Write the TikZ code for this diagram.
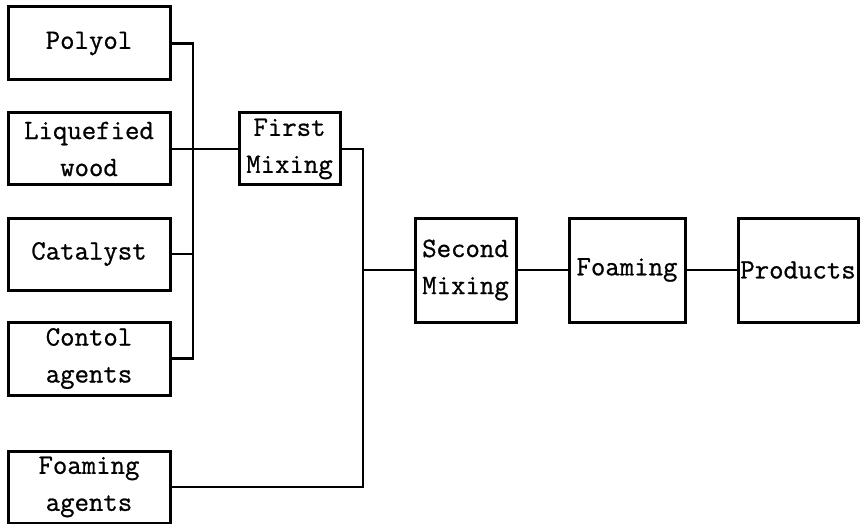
\documentclass[tikz,border=0pt]{standalone}
\usepackage{fontspec}
\newfontfamily\boxfont{Latin Modern Mono}[FakeBold=0.8]
\begin{document}
\begin{tikzpicture}[x=1pt,y=-1pt,
  box/.style={draw,line width=3pt,inner sep=0pt,align=center,
    font=\boxfont\fontsize{28}{37}\selectfont},
  wire/.style={line width=2.8pt}]
\useasboundingbox (0,0) rectangle (860,524);
\node[box,minimum width=162pt,minimum height=73pt] (polyol) at (89,43.5) {Polyol};
\node[box,minimum width=162pt,minimum height=72pt] (liq) at (89,149) {Liquefied\\wood};
\node[box,minimum width=162pt,minimum height=72pt] (cat) at (89,254) {Catalyst};
\node[box,minimum width=162pt,minimum height=73pt] (contol) at (89,358.5) {Contol\\agents};
\node[box,minimum width=162pt,minimum height=72pt] (foamag) at (89,487) {Foaming\\agents};
\node[box,minimum width=101pt,minimum height=72pt] (first) at (289.5,149) {First\\Mixing};
\node[box,minimum width=101pt,minimum height=104pt] (second) at (465.5,270) {Second\\Mixing};
\node[box,minimum width=116pt,minimum height=104pt] (foaming) at (627,270) {Foaming};
\node[box,minimum width=120pt,minimum height=104pt] (products) at (798,270) {Products};
\coordinate (busA) at (193,0);
\coordinate (busB) at (363,0);
\draw[wire] (polyol.east) -| (busA |- contol.east) -- (contol.east);
\draw[wire] (cat.east) -- (cat.east -| busA);
\draw[wire] (liq.east) -- (first.west);
\draw[wire] (first.east) -| (busB |- foamag.east) -- (foamag.east);
\draw[wire] (second.west -| busB) -- (second.west);
\draw[wire] (second.east) -- (foaming.west);
\draw[wire] (foaming.east) -- (products.west);
\end{tikzpicture}
\end{document}
